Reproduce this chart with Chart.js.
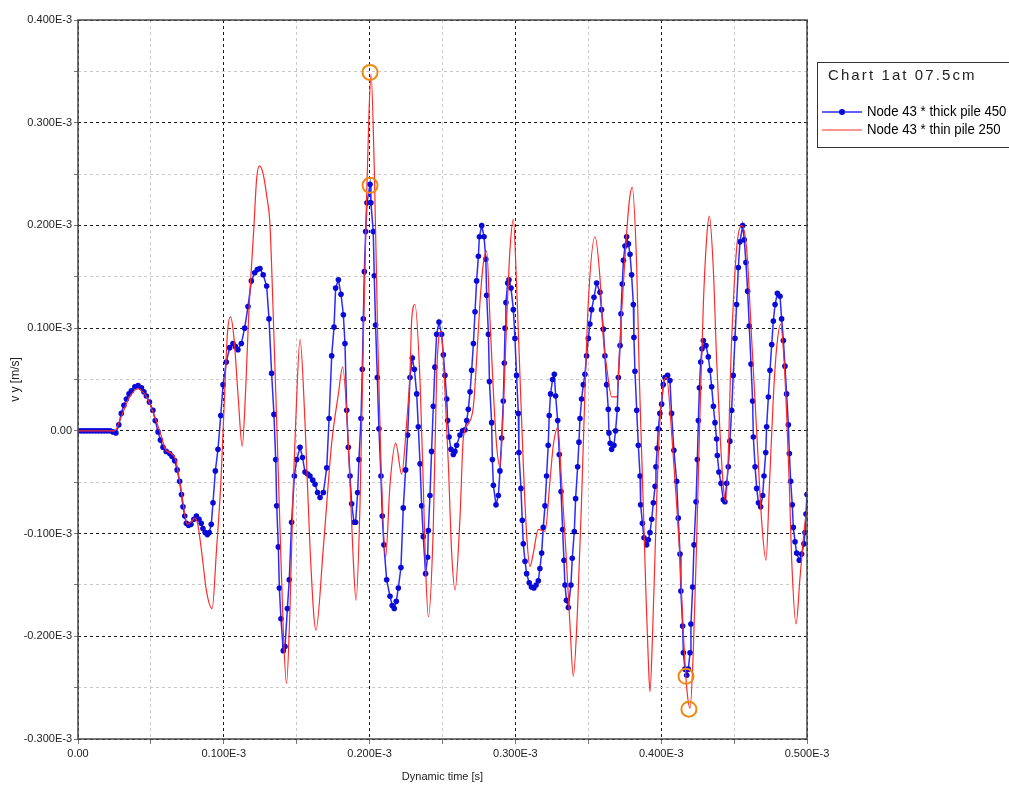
<!DOCTYPE html>
<html>
<head>
<meta charset="utf-8">
<script src="https://cdn.jsdelivr.net/npm/chart.js@4.4.1/dist/chart.umd.min.js"></script>
<style>
    body { margin: 0; background: #fff; }
    canvas { display: block; }
</style>
</head>
<body>
<canvas id="chart" width="1009" height="787" style="width:1009px;height:787px"></canvas>
<script>
// time and velocity are both in units of 1E-3 (s and m/s), as the tick labels show
const seriesLabels = ['Node 43 * thick pile 450', 'Node 43 * thin pile 250'];
const chartTitle = 'Chart 1at 07.5cm';

// [time, vy]
const thickPile = [
    [0,0],[0.002,0],[0.004,0],[0.006,0],[0.008,0],[0.010,0],[0.012,0],[0.014,0],[0.016,0],[0.018,0],
    [0.020,0],[0.022,0],[0.024,-0.001],[0.026,-0.002],[0.028,0.006],[0.0297,0.017],[0.0315,0.025],
    [0.0332,0.031],[0.035,0.036],[0.0366,0.039],[0.039,0.043],[0.0412,0.044],[0.0435,0.042],[0.0452,0.038],
    [0.0469,0.034],[0.049,0.028],[0.0514,0.02],[0.053,0.01],[0.0549,-0.001],[0.0565,-0.009],[0.0583,-0.016],
    [0.0605,-0.02],[0.0629,-0.022],[0.0645,-0.025],[0.0663,-0.029],[0.068,-0.038],[0.0697,-0.049],[0.071,-0.062],
    [0.072,-0.074],[0.0732,-0.083],[0.0743,-0.09],[0.0758,-0.092],[0.0775,-0.091],[0.0795,-0.086],[0.0812,-0.083],
    [0.083,-0.086],[0.0845,-0.09],[0.0857,-0.095],[0.0872,-0.099],[0.0887,-0.101],[0.090,-0.099],[0.0914,-0.091],
    [0.0926,-0.07],[0.0942,-0.039],[0.096,-0.018],[0.0979,0.015],[0.0995,0.045],[0.1017,0.067],[0.104,0.081],
    [0.1063,0.085],[0.108,0.082],[0.1097,0.079],[0.112,0.085],[0.1143,0.1],[0.1166,0.121],[0.1189,0.146],
    [0.1212,0.154],[0.123,0.157],[0.1248,0.158],[0.127,0.152],[0.1294,0.141],[0.131,0.109],[0.1328,0.056],
    [0.1344,0.016],[0.1356,-0.028],[0.1363,-0.073],[0.1374,-0.113],[0.1381,-0.153],[0.1392,-0.183],[0.1408,-0.214],
    [0.142,-0.21],[0.1436,-0.173],[0.1449,-0.145],[0.1465,-0.089],[0.1484,-0.044],[0.150,-0.028],[0.1523,-0.016],
    [0.154,-0.026],[0.1557,-0.04],[0.1575,-0.042],[0.1591,-0.044],[0.161,-0.048],[0.1626,-0.052],[0.1643,-0.06],
    [0.166,-0.065],[0.1683,-0.06],[0.1706,-0.036],[0.1722,0.012],[0.174,0.073],[0.1756,0.101],[0.1767,0.139],
    [0.1786,0.147],[0.1804,0.133],[0.182,0.113],[0.1831,0.085],[0.1843,0.02],[0.1854,-0.016],[0.1866,-0.044],
    [0.1877,-0.071],[0.1893,-0.089],[0.1904,-0.089],[0.1918,-0.06],[0.1927,-0.028],[0.1941,0.012],[0.195,0.06],
    [0.1957,0.109],[0.1964,0.155],[0.1973,0.194],[0.1982,0.222],[0.2003,0.24],[0.2009,0.222],[0.2025,0.194],
    [0.2032,0.151],[0.2041,0.103],[0.2053,0.052],[0.2064,0.002],[0.2078,-0.044],[0.2087,-0.083],[0.2098,-0.111],
    [0.2117,-0.145],[0.214,-0.161],[0.2155,-0.17],[0.2169,-0.173],[0.2183,-0.166],[0.2197,-0.153],[0.2215,-0.133],
    [0.2231,-0.075],[0.2247,-0.038],[0.2261,-0.004],[0.2277,0.052],[0.2293,0.071],[0.2307,0.06],[0.2323,0.036],
    [0.2334,0.004],[0.2346,-0.032],[0.2357,-0.073],[0.2368,-0.103],[0.2384,-0.139],[0.2398,-0.123],[0.2403,-0.097],
    [0.2414,-0.063],[0.2425,-0.02],[0.2437,0.024],[0.2448,0.062],[0.246,0.094],[0.2476,0.106],[0.2494,0.094],
    [0.2506,0.074],[0.2517,0.054],[0.2529,0.031],[0.2535,0.01],[0.2545,-0.006],[0.2558,-0.018],[0.2574,-0.023],
    [0.2585,-0.02],[0.2597,-0.014],[0.262,-0.004],[0.2637,0.0],[0.2654,0.001],[0.2666,0.01],[0.2677,0.021],
    [0.2689,0.038],[0.27,0.059],[0.2712,0.085],[0.2723,0.116],[0.2734,0.146],[0.2746,0.17],[0.2753,0.189],
    [0.2769,0.2],[0.2785,0.189],[0.2797,0.167],[0.2803,0.132],[0.2815,0.094],[0.2822,0.048],[0.2837,0.008],
    [0.2842,-0.028],[0.2849,-0.053],[0.2867,-0.072],[0.2883,-0.063],[0.2894,-0.039],[0.2906,-0.007],[0.2917,0.029],
    [0.2924,0.066],[0.2929,0.1],[0.2935,0.125],[0.2947,0.144],[0.2956,0.147],[0.297,0.139],[0.2986,0.118],
    [0.2997,0.09],[0.3008,0.054],[0.302,0.017],[0.3024,-0.021],[0.3038,-0.056],[0.3047,-0.087],[0.3054,-0.11],
    [0.3066,-0.127],[0.3077,-0.139],[0.3095,-0.148],[0.311,-0.152],[0.3127,-0.153],[0.3142,-0.15],[0.3157,-0.146],
    [0.3168,-0.134],[0.318,-0.119],[0.3191,-0.094],[0.3203,-0.073],[0.3214,-0.044],[0.3225,-0.014],[0.3232,0.015],
    [0.3241,0.036],[0.3255,0.05],[0.3267,0.055],[0.3276,0.034],[0.329,0.01],[0.3301,-0.023],[0.3313,-0.059],
    [0.3324,-0.096],[0.3333,-0.126],[0.334,-0.15],[0.335,-0.165],[0.3363,-0.172],[0.3381,-0.15],[0.339,-0.124],
    [0.3404,-0.098],[0.3413,-0.066],[0.3427,-0.035],[0.3436,-0.011],[0.3443,0.012],[0.3454,0.031],[0.3466,0.045],
    [0.3477,0.055],[0.3488,0.073],[0.35,0.09],[0.3511,0.104],[0.3523,0.118],[0.3539,0.13],[0.3557,0.144],
    [0.358,0.135],[0.3591,0.118],[0.3603,0.099],[0.3614,0.073],[0.3626,0.045],[0.3637,0.021],[0.3642,-0.002],
    [0.365,-0.012],[0.366,-0.018],[0.3676,-0.014],[0.3687,0.0],[0.3699,0.021],[0.3706,0.052],[0.3718,0.083],
    [0.3724,0.114],[0.3733,0.143],[0.3741,0.166],[0.3752,0.18],[0.3763,0.189],[0.3775,0.182],[0.3786,0.172],
    [0.3797,0.152],[0.3809,0.123],[0.3813,0.091],[0.382,0.058],[0.3832,0.02],[0.3843,-0.014],[0.3855,-0.044],
    [0.3859,-0.072],[0.3871,-0.09],[0.3882,-0.104],[0.39,-0.111],[0.3912,-0.106],[0.3923,-0.099],[0.3935,-0.086],
    [0.3946,-0.07],[0.3958,-0.054],[0.3964,-0.035],[0.3973,-0.017],[0.398,0.002],[0.3991,0.017],[0.4003,0.026],
    [0.4014,0.045],[0.4026,0.052],[0.4044,0.054],[0.406,0.049],[0.4071,0.017],[0.4087,-0.019],[0.4106,-0.049],
    [0.4117,-0.085],[0.4129,-0.12],[0.4135,-0.156],[0.4147,-0.19],[0.4152,-0.216],[0.4163,-0.232],[0.4175,-0.238],
    [0.4186,-0.232],[0.4198,-0.216],[0.4204,-0.188],[0.4216,-0.152],[0.4225,-0.111],[0.4239,-0.069],[0.4248,-0.028],
    [0.4255,0.01],[0.4262,0.042],[0.4271,0.067],[0.428,0.08],[0.4289,0.088],[0.4307,0.083],[0.4323,0.072],
    [0.4335,0.059],[0.4346,0.043],[0.4358,0.024],[0.4369,0.008],[0.438,-0.008],[0.4385,-0.024],[0.4396,-0.04],
    [0.441,-0.051],[0.4426,-0.067],[0.4437,-0.069],[0.4449,-0.051],[0.446,-0.035],[0.4471,-0.01],[0.4483,0.02],
    [0.4494,0.054],[0.4506,0.09],[0.4517,0.123],[0.4529,0.159],[0.454,0.184],[0.4559,0.2],[0.457,0.186],
    [0.4581,0.164],[0.4593,0.136],[0.4604,0.102],[0.4616,0.065],[0.4627,0.029],[0.4632,-0.006],[0.4644,-0.035],
    [0.4655,-0.056],[0.4667,-0.07],[0.4682,-0.074],[0.4696,-0.063],[0.4705,-0.044],[0.4717,-0.021],[0.4723,0.004],
    [0.4735,0.033],[0.4746,0.059],[0.4758,0.084],[0.4769,0.107],[0.4781,0.123],[0.4797,0.134],[0.4815,0.131],
    [0.4826,0.109],[0.4838,0.088],[0.4849,0.063],[0.486,0.036],[0.4872,0.006],[0.4879,-0.022],[0.4888,-0.049],
    [0.4899,-0.072],[0.4906,-0.094],[0.4918,-0.108],[0.4929,-0.119],[0.4947,-0.126],[0.4963,-0.12],[0.4979,-0.11],
    [0.4986,-0.099],[0.4993,-0.081],[0.5,-0.062]
];

const thinPile = [
    [0,0],[0.01,0],[0.02,0],[0.025,0],[0.03,0.015],[0.035,0.032],[0.0412,0.041],[0.047,0.033],[0.052,0.016],
    [0.056,0],[0.060,-0.018],[0.064,-0.022],[0.067,-0.028],[0.071,-0.06],[0.075,-0.091],[0.078,-0.088],
    [0.080,-0.085],[0.082,-0.09],[0.085,-0.12],[0.088,-0.155],[0.092,-0.173],[0.095,-0.116],[0.098,-0.05],
    [0.1005,0.034],[0.1025,0.095],[0.1046,0.111],[0.107,0.09],[0.110,0.03],[0.1126,-0.015],[0.115,0.04],
    [0.117,0.11],[0.1207,0.2],[0.1225,0.245],[0.1245,0.258],[0.127,0.25],[0.1295,0.228],[0.1317,0.2],
    [0.134,0.109],[0.1363,0.008],[0.1385,-0.093],[0.1408,-0.194],[0.143,-0.246],[0.1454,-0.173],[0.1477,-0.052],
    [0.1493,0.008],[0.1523,0.089],[0.1557,0.008],[0.1591,-0.113],[0.1632,-0.194],[0.1683,-0.113],[0.174,-0.012],
    [0.1786,0.036],[0.1815,0.062],[0.1854,-0.012],[0.1884,-0.113],[0.1907,-0.165],[0.1934,-0.073],[0.1957,0.089],
    [0.198,0.23],[0.1996,0.31],[0.201,0.347],[0.2033,0.25],[0.2056,0.089],[0.2078,-0.032],[0.211,-0.123],
    [0.214,-0.052],[0.2179,-0.012],[0.222,-0.042],[0.2254,0.008],[0.2277,0.056],[0.2289,0.109],[0.2311,0.123],
    [0.2346,0.048],[0.2368,-0.052],[0.2384,-0.133],[0.2403,-0.181],[0.2437,-0.093],[0.246,0.055],[0.249,0.097],
    [0.2517,0.038],[0.254,-0.032],[0.2563,-0.119],[0.2586,-0.155],[0.262,-0.084],[0.2643,-0.007],[0.2677,0.007],
    [0.2712,0.024],[0.2734,0.069],[0.2757,0.125],[0.278,0.163],[0.2803,0.175],[0.2826,0.107],[0.2849,0.038],
    [0.2871,-0.014],[0.2894,-0.035],[0.2917,0.02],[0.294,0.107],[0.2963,0.177],[0.2986,0.206],[0.3008,0.142],
    [0.3031,0.055],[0.3054,-0.032],[0.3077,-0.101],[0.31,-0.132],[0.3123,-0.119],[0.3157,-0.096],[0.3203,-0.098],
    [0.3237,-0.049],[0.326,-0.014],[0.329,0.003],[0.3317,-0.049],[0.3347,-0.119],[0.3374,-0.188],[0.3397,-0.239],
    [0.3427,-0.171],[0.3454,-0.066],[0.3477,0.038],[0.35,0.125],[0.3546,0.189],[0.358,0.149],[0.3603,0.09],
    [0.3626,0.062],[0.3661,0.033],[0.3695,0.033],[0.3718,0.09],[0.375,0.165],[0.378,0.222],[0.3801,0.237],
    [0.3832,0.159],[0.385,0.052],[0.3873,-0.054],[0.3896,-0.161],[0.3912,-0.225],[0.3923,-0.254],[0.3941,-0.197],
    [0.3964,-0.09],[0.3987,-0.001],[0.4015,0.045],[0.4037,0.052],[0.4071,-0.001],[0.4106,-0.072],[0.4129,-0.126],
    [0.4152,-0.197],[0.4175,-0.25],[0.4198,-0.27],[0.422,-0.215],[0.4243,-0.108],[0.4266,0.017],[0.4289,0.123],
    [0.4312,0.188],[0.433,0.209],[0.4357,0.159],[0.438,0.07],[0.4403,-0.001],[0.4426,-0.054],[0.4444,-0.069],
    [0.4483,0.088],[0.4517,0.177],[0.4552,0.2],[0.4586,0.177],[0.4621,0.088],[0.4655,-0.001],[0.469,-0.09],
    [0.4719,-0.126],[0.4742,-0.054],[0.477,0.035],[0.4792,0.081],[0.4819,0.104],[0.4842,0.07],[0.486,0.017],
    [0.4879,-0.054],[0.4895,-0.126],[0.4925,-0.188],[0.4952,-0.143],[0.4986,-0.09],[0.5,-0.078]
];

// orange rings round the extreme values
const markedPeaks = [[0.2003,0.349],[0.2003,0.239],[0.417,-0.239],[0.419,-0.271]];

const blue = '#2b2bff';
const red = '#ff2a2a';
const sans = '"Liberation Sans", Arial, sans-serif';

function isMajor(v) {
    return Math.abs(v * 10 - Math.round(v * 10)) < 1e-6;
}
function tickText(v) {
    if (!isMajor(v)) return '';
    if (Math.abs(v) < 1e-9) return '0.00';
    return v.toFixed(3) + 'E-3';
}
const toXY = arr => arr.map(p => ({ x: p[0], y: p[1] }));

// box round the plot area
const framePlugin = {
    id: 'frame',
    afterDatasetsDraw(chart) {
        const a = chart.chartArea;
        const c = chart.ctx;
        c.save();
        c.strokeStyle = '#4a4a4a';
        c.lineWidth = 1.5;
        c.strokeRect(a.left, a.top, a.right - a.left, a.bottom - a.top);
        c.restore();
    }
};

// legend box at the upper right
const legendPlugin = {
    id: 'sideLegend',
    afterDraw(chart) {
        const c = chart.ctx;
        c.save();
        c.fillStyle = '#fff';
        c.fillRect(817, 62, 200, 85);
        c.strokeStyle = '#333';
        c.lineWidth = 1;
        c.strokeRect(817.5, 62.5, 200, 85);

        c.fillStyle = '#222';
        c.textBaseline = 'middle';
        c.font = '15px ' + sans;
        c.letterSpacing = '2.1px';
        c.fillText(chartTitle, 828, 76);
        c.letterSpacing = '0px';

        const rows = [{ y: 112, color: blue, dot: true }, { y: 130, color: red, dot: false }];
        rows.forEach((r, i) => {
            c.strokeStyle = r.color;
            c.lineWidth = r.dot ? 1.5 : 1.2;
            c.beginPath();
            c.moveTo(822, r.y);
            c.lineTo(862, r.y);
            c.stroke();
            if (r.dot) {
                c.fillStyle = '#0a0ad8';
                c.beginPath();
                c.arc(842, r.y, 3, 0, Math.PI * 2);
                c.fill();
            }
            // the legend text is set in a squeezed face
            c.save();
            c.translate(867, r.y);
            c.scale(0.88, 1);
            c.fillStyle = '#000';
            c.font = '15px ' + sans;
            c.fillText(seriesLabels[i], 0, 0);
            c.restore();
        });
        c.restore();
    }
};

const gridColor = ctx => isMajor(ctx.tick.value) ? '#1a1a1a' : '#c9c9c9';

new Chart(document.getElementById('chart'), {
    type: 'line',
    data: {
        datasets: [
            {
                label: seriesLabels[0],
                data: toXY(thickPile),
                borderColor: blue,
                borderWidth: 1.5,
                pointRadius: 2.8,
                pointBackgroundColor: '#0a0ad8',
                pointBorderWidth: 0,
                tension: 0,
                order: 2
            },
            {
                label: seriesLabels[1],
                data: toXY(thinPile),
                borderColor: red,
                borderWidth: 1.2,
                pointRadius: 0,
                cubicInterpolationMode: 'monotone',
                order: 1
            },
            {
                label: 'peaks',
                data: toXY(markedPeaks),
                showLine: false,
                pointRadius: 7.5,
                pointBackgroundColor: 'rgba(0,0,0,0)',
                pointBorderColor: '#ee8a10',
                pointBorderWidth: 2,
                order: 0
            }
        ]
    },
    options: {
        responsive: false,
        animation: false,
        layout: { padding: { top: 20, right: 202, left: 0, bottom: 0 } },
        plugins: {
            legend: { display: false },
            tooltip: { enabled: false }
        },
        scales: {
            x: {
                type: 'linear',
                min: 0,
                max: 0.5,
                afterFit: s => { s.height = 48; },
                ticks: {
                    stepSize: 0.05,
                    autoSkip: false,
                    maxRotation: 0,
                    padding: 3,
                    color: '#222',
                    font: { family: sans, size: 11 },
                    callback: v => tickText(v)
                },
                grid: {
                    color: gridColor,
                    lineWidth: 1,
                    tickLength: 5,
                    tickColor: '#777',
                    tickBorderDash: []
                },
                border: { display: false, dash: [3, 3] },
                title: {
                    display: true,
                    text: 'Dynamic time [s]',
                    color: '#222',
                    font: { family: sans, size: 11 },
                    padding: { top: 0, bottom: 3 }
                }
            },
            y: {
                type: 'linear',
                min: -0.3,
                max: 0.4,
                afterFit: s => { s.width = 78; },
                ticks: {
                    stepSize: 0.05,
                    autoSkip: false,
                    padding: 2,
                    color: '#222',
                    font: { family: sans, size: 11 },
                    callback: v => tickText(v)
                },
                grid: {
                    color: gridColor,
                    lineWidth: 1,
                    tickLength: 4,
                    tickColor: '#777',
                    tickBorderDash: []
                },
                border: { display: false, dash: [3, 3] },
                title: {
                    display: true,
                    text: 'v y [m/s]',
                    color: '#222',
                    font: { family: sans, size: 12 },
                    padding: { top: 8, bottom: 0 }
                }
            }
        }
    },
    plugins: [framePlugin, legendPlugin]
});
</script>
</body>
</html>
